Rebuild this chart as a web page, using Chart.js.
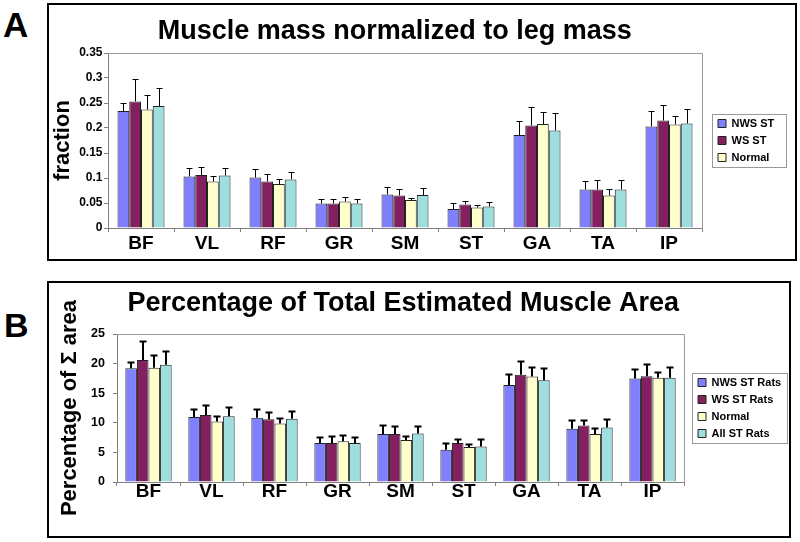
<!DOCTYPE html>
<html>
<head>
<meta charset="utf-8">
<script src="https://cdn.jsdelivr.net/npm/chart.js@4.4.1/dist/chart.umd.min.js"></script>
<style>
  html, body { margin: 0; padding: 0; background: #fff; }
  body { width: 800px; height: 542px; position: relative; overflow: hidden; font-family: "Liberation Sans", Arial, sans-serif; }
  .panel { position: absolute; border: 2px solid #000; box-sizing: border-box; }
  .letter { position: absolute; font-weight: bold; line-height: 1; color: #000; }
  canvas { position: absolute; left: 0; }
</style>
</head>
<body>
<div class="panel" style="left:47px; top:3px; width:750px; height:258px;"></div>
<div class="panel" style="left:47px; top:281px; width:744px; height:257px;"></div>
<div class="letter" style="left:3px; top:7px; font-size:35px;">A</div>
<div class="letter" style="left:4px; top:308px; font-size:34px;">B</div>
<canvas id="chartA" width="800" height="262" style="top:0px;"></canvas>
<canvas id="chartB" width="800" height="272" style="top:270px;"></canvas>
<script>
// ---------- data ----------
const categories = ['BF', 'VL', 'RF', 'GR', 'SM', 'ST', 'GA', 'TA', 'IP'];

// Panel A: muscle mass normalized to leg mass (fraction)
const titleA = 'Muscle mass normalized to leg mass';
const yTitleA = 'fraction';
const seriesLabelsA = ['NWS ST', 'WS ST', 'Normal', ''];
const massNWS    = [0.234, 0.103, 0.101, 0.049, 0.067, 0.038, 0.186, 0.077, 0.203];
const massWS     = [0.253, 0.106, 0.093, 0.049, 0.065, 0.047, 0.205, 0.077, 0.215];
const massNormal = [0.237, 0.093, 0.088, 0.053, 0.056, 0.041, 0.208, 0.065, 0.207];
const massAllST  = [0.244, 0.105, 0.097, 0.049, 0.066, 0.043, 0.195, 0.077, 0.209];
const massNWSErr    = [0.015, 0.018, 0.018, 0.010, 0.016, 0.013, 0.029, 0.018, 0.030];
const massWSErr     = [0.046, 0.017, 0.016, 0.010, 0.014, 0.008, 0.038, 0.019, 0.032];
const massNormalErr = [0.030, 0.012, 0.011, 0.010, 0.005, 0.006, 0.025, 0.013, 0.017];
const massAllSTErr  = [0.037, 0.016, 0.016, 0.010, 0.015, 0.010, 0.035, 0.019, 0.030];
const yTickValuesA = [0, 0.05, 0.1, 0.15, 0.2, 0.25, 0.3, 0.35];
const yTickLabelsA = ['0', '0.05', '0.1', '0.15', '0.2', '0.25', '0.3', '0.35'];

// Panel B: percentage of total estimated muscle area
const titleB = 'Percentage of Total Estimated Muscle Area';
const yTitleB = 'Percentage of \u03A3 area';
const seriesLabelsB = ['NWS ST Rats', 'WS ST Rats', 'Normal', 'All ST Rats'];
const areaNWS    = [19.2, 11.0, 10.85, 6.6, 8.1, 5.45, 16.4, 9.0, 17.5];
const areaWS     = [20.6, 11.3, 10.6, 6.6, 8.1, 6.6, 18.1, 9.55, 17.85];
const areaNormal = [19.3, 10.2, 9.9, 6.9, 7.1, 5.9, 17.8, 8.1, 17.6];
const areaAllST  = [19.8, 11.1, 10.7, 6.6, 8.2, 6.0, 17.2, 9.2, 17.6];
const areaNWSErr    = [1.1, 1.4, 1.5, 1.0, 1.5, 1.2, 1.8, 1.5, 1.6];
const areaWSErr     = [3.15, 1.65, 1.2, 1.1, 1.3, 0.6, 2.4, 0.95, 2.15];
const areaNormalErr = [2.2, 0.9, 0.9, 1.05, 0.7, 0.5, 1.6, 1.0, 0.9];
const areaAllSTErr  = [2.4, 1.5, 1.3, 1.0, 1.3, 1.2, 2.1, 1.4, 1.8];
const yTickValuesB = [0, 5, 10, 15, 20, 25];
const yTickLabelsB = ['0', '5', '10', '15', '20', '25'];

// ---------- styling ----------
const seriesColors = ['#8080FF', '#832060', '#FFFFCC', '#9EDEDE'];
const FONT = "'Liberation Sans', Arial, sans-serif";
Chart.defaults.font.family = FONT;
Chart.defaults.color = '#000';

// ---------- plugins ----------
const errorBarPlugin = {
  id: 'errorBars',
  afterDatasetsDraw(chart, args, opts) {
    const ctx = chart.ctx;
    const y = chart.scales.y;
    ctx.save();
    ctx.strokeStyle = '#000';
    ctx.lineWidth = opts.lineWidth;
    chart.data.datasets.forEach((ds, di) => {
      const meta = chart.getDatasetMeta(di);
      const errs = opts.errors[di];
      meta.data.forEach((bar, i) => {
        const v = ds.data[i];
        const yBase = y.getPixelForValue(v);
        const yTop = Math.round(y.getPixelForValue(v + errs[i])) + 0.5;
        const x = Math.round(bar.x) + (opts.lineWidth % 2 ? 0.5 : 0);
        ctx.beginPath();
        ctx.moveTo(x, yBase);
        ctx.lineTo(x, yTop);
        ctx.moveTo(x - opts.cap, yTop);
        ctx.lineTo(x + opts.cap, yTop);
        ctx.stroke();
      });
    });
    ctx.restore();
  }
};

const framePlugin = {
  id: 'plotFrame',
  beforeDatasetsDraw(chart, args, opts) {
    const {ctx, chartArea: a} = chart;
    ctx.save();
    ctx.strokeStyle = opts.color;
    ctx.lineWidth = 1;
    const l = Math.round(a.left) + 0.5, t = Math.round(a.top) + 0.5;
    const r = Math.round(a.right) + 0.5, b = Math.round(a.bottom) + 0.5;
    ctx.beginPath();
    ctx.moveTo(l, t); ctx.lineTo(r, t); ctx.lineTo(r, b);
    ctx.stroke();
    ctx.restore();
  }
};

const legendBoxPlugin = {
  id: 'legendBox',
  afterDraw(chart, args, opts) {
    const lg = chart.legend;
    if (!lg || !lg.legendHitBoxes || !lg.legendHitBoxes.length) return;
    const hb = lg.legendHitBoxes;
    const last = hb[hb.length - 1];
    const top = Math.round(hb[0].top - opts.pad) + 0.5;
    const bottom = Math.round(last.top + last.height + opts.pad) + 0.5;
    const left = Math.round(lg.left) + 0.5;
    const ctx = chart.ctx;
    ctx.save();
    ctx.strokeStyle = '#999';
    ctx.lineWidth = 1;
    ctx.strokeRect(left, top, opts.width, bottom - top);
    ctx.restore();
  }
};

// ---------- chart factory ----------
function makeChart(id, cfg) {
  const datasets = cfg.series.map((data, i) => ({
    label: cfg.labels[i],
    data: data,
    yAxisID: 'y',
    backgroundColor: seriesColors[i],
    borderColor: '#222',
    borderWidth: 1,
    categoryPercentage: cfg.catPct,
    barPercentage: 1.0
  }));
  return new Chart(document.getElementById(id), {
    type: 'bar',
    data: { labels: categories, datasets: datasets },
    options: {
      responsive: false,
      animation: false,
      events: [],
      layout: { padding: cfg.padding },
      plugins: {
        tooltip: { enabled: false },
        title: {
          display: true,
          text: cfg.title,
          fullSize: true,
          font: { size: 27, weight: 'bold', family: FONT },
          color: '#000',
          padding: cfg.titlePad
        },
        legend: {
          display: true,
          position: 'right',
          align: 'center',
          fullSize: false,
          labels: {
            boxWidth: 8,
            boxHeight: 8,
            padding: 6,
            color: '#000',
            font: { size: 11, weight: 'bold', family: FONT },
            filter: (item) => item.text !== ''
          }
        },
        errorBars: { errors: cfg.errors, lineWidth: cfg.errWidth, cap: cfg.cap },
        plotFrame: { color: '#9a9a9a' },
        legendBox: { width: cfg.legendBoxWidth, pad: 4 }
      },
      scales: {
        x: {
          type: 'category',
          offset: true,
          grid: { display: true, offset: true, drawOnChartArea: false, drawTicks: true, tickLength: 4, color: '#808080' },
          border: { display: true, color: '#808080', width: 1 },
          ticks: { color: '#000', font: { size: 19, weight: 'bold', family: FONT }, padding: cfg.xTickPad, maxRotation: 0, autoSkip: false },
          afterFit: (s) => { s.height = cfg.xHeight; }
        },
        y: {
          type: 'linear',
          position: 'left',
          min: cfg.yTicks[0],
          max: cfg.yTicks[cfg.yTicks.length - 1],
          grid: { display: true, drawOnChartArea: false, drawTicks: true, tickLength: 4, color: '#808080' },
          border: { display: true, color: '#808080', width: 1 },
          ticks: {
            color: '#000',
            font: { size: cfg.yTickFont, weight: 'bold', family: FONT },
            padding: cfg.yTickPad,
            callback: (v, i) => cfg.yTickLabels[i]
          },
          afterBuildTicks: (s) => { s.ticks = cfg.yTicks.map(v => ({ value: v })); },
          title: {
            display: true,
            text: cfg.yTitle,
            color: '#000',
            font: { size: 22, weight: 'bold', family: FONT },
            padding: { top: cfg.yTitlePad, bottom: 0 }
          },
          afterFit: (s) => { s.width = cfg.yWidth; }
        },
        gap: {
          type: 'linear',
          position: 'right',
          display: true,
          grid: { display: false, drawTicks: false },
          border: { display: false },
          ticks: { display: false },
          afterFit: (s) => { s.width = cfg.gap; }
        }
      }
    },
    plugins: [framePlugin, errorBarPlugin, legendBoxPlugin]
  });
}

makeChart('chartA', {
  title: titleA,
  yTitle: yTitleA,
  labels: seriesLabelsA,
  series: [massNWS, massWS, massNormal, massAllST],
  errors: [massNWSErr, massWSErr, massNormalErr, massAllSTErr],
  yTicks: yTickValuesA,
  yTickLabels: yTickLabelsA,
  padding: { left: 5.3, right: 15.7, top: 0, bottom: 0 },
  titlePad: { top: 15, bottom: 5.6 },
  catPct: 0.712,
  xHeight: 34,
  xTickPad: 0,
  yWidth: 102.7,
  yTickFont: 12,
  yTickPad: 1.5,
  yTitlePad: 44.6,
  gap: 10,
  errWidth: 1,
  cap: 3,
  legendBoxWidth: 74
});

makeChart('chartB', {
  title: titleB,
  yTitle: yTitleB,
  labels: seriesLabelsB,
  series: [areaNWS, areaWS, areaNormal, areaAllST],
  errors: [areaNWSErr, areaWSErr, areaNormalErr, areaAllSTErr],
  yTicks: yTickValuesB,
  yTickLabels: yTickLabelsB,
  padding: { left: 15.4, right: 8.8, top: 0, bottom: 0 },
  titlePad: { top: 17.6, bottom: 14 },
  catPct: 0.735,
  xHeight: 60,
  xTickPad: -5.7,
  yWidth: 101.6,
  yTickFont: 12.5,
  yTickPad: 8,
  yTitlePad: 41.1,
  gap: 8,
  errWidth: 2,
  cap: 3.5,
  legendBoxWidth: 95
});
</script>
</body>
</html>
